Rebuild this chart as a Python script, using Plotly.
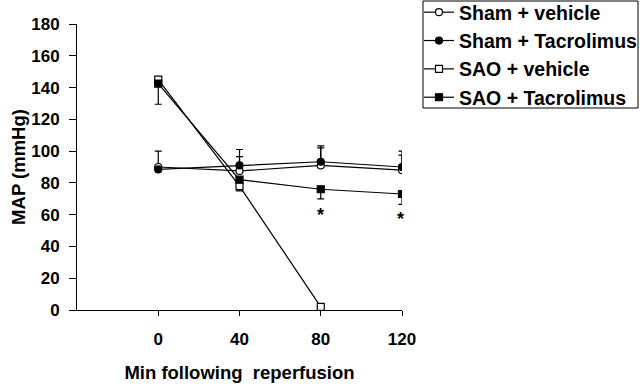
import plotly.graph_objects as go

times = [0, 40, 80, 120]
x_ticks = [0, 40, 80, 120]
y_ticks = [0, 20, 40, 60, 80, 100, 120, 140, 160, 180]

sham_veh = [90, 87.5, 91, 88]
sham_veh_up = [10, 9, 11, 12]
sham_veh_dn = [0, 0, 0, 0]

sham_tac = [88.5, 91, 93.3, 90]
sham_tac_up = [1, 10, 10, 7.5]
sham_tac_dn = [0, 0, 0, 0]

sao_veh_t = [0, 40, 80]
sao_veh = [145, 78, 2]
sao_veh_up = [0, 0, 0]
sao_veh_dn = [1, 3, 0]

sao_tac = [142.5, 82, 76, 73]
sao_tac_up = [0, 0, 0, 0]
sao_tac_dn = [13, 0, 6, 6.5]

sig_x = [80, 120]
sig_y = [60, 57]

FONT = "Liberation Sans, Arial, sans-serif"

# plot area in pixels: x 77..402, y 24..310
PL, PR, PT, PB = 77, 402, 24, 310
def px(x):
    return (x - PL) / (PR - PL)
def py(y):
    return (PB - y) / (PB - PT)

fig = go.Figure()

def add(name, x, y, up, dn, symbol, fill):
    fig.add_trace(go.Scatter(
        x=x, y=y, name=name, mode="lines+markers",
        line=dict(color="black", width=1.2),
        marker=dict(symbol=symbol, size=7, color=fill,
                    line=dict(color="black", width=1.2)),
        error_y=dict(type="data", symmetric=False, array=up, arrayminus=dn,
                     color="black", thickness=1.2, width=3.5),
        legendgroup=name,
    ))

add("Sham + vehicle", times, sham_veh, sham_veh_up, sham_veh_dn, "circle", "white")
add("Sham + Tacrolimus", times, sham_tac, sham_tac_up, sham_tac_dn, "circle", "black")
add("SAO + vehicle", sao_veh_t, sao_veh, sao_veh_up, sao_veh_dn, "square", "white")
add("SAO + Tacrolimus", times, sao_tac, sao_tac_up, sao_tac_dn, "square", "black")

for xv, yv in zip(sig_x, sig_y):
    fig.add_annotation(x=xv, y=yv, text="<b>*</b>", showarrow=False,
                       font=dict(family=FONT, size=18, color="black"),
                       xanchor="center", yanchor="middle", xshift=-2 if xv == 120 else 0)

# legend frame
fig.add_shape(type="rect", xref="paper", yref="paper",
              x0=px(423), x1=px(638), y0=py(108), y1=py(1),
              line=dict(color="black", width=1), fillcolor="rgba(0,0,0,0)")

fig.update_layout(
    width=640, height=386,
    margin=dict(l=PL, r=640 - PR, t=PT, b=386 - PB, autoexpand=False),
    paper_bgcolor="white", plot_bgcolor="white",
    font=dict(family=FONT, color="black", size=17, weight="bold"),
    showlegend=True,
    legend=dict(
        x=px(419), y=py(-7), xanchor="left", yanchor="top",
        borderwidth=0, bgcolor="rgba(0,0,0,0)",
        font=dict(family=FONT, size=19.5, weight="bold"),
        tracegroupgap=0,
    ),
)

fig.update_xaxes(
    range=[-40, 120], tickvals=x_ticks, showgrid=False, zeroline=False,
    showline=True, linecolor="black", linewidth=1,
    ticks="outside", ticklen=5, tickcolor="black", tickwidth=1,
    tickfont=dict(family=FONT, size=17, weight="bold"),
    ticklabelstandoff=9,
    title=dict(text="Min following  reperfusion", font=dict(family=FONT, size=18.5, weight="bold"), standoff=17),
)
fig.update_yaxes(
    range=[0, 180], tickvals=y_ticks, showgrid=False, zeroline=False,
    showline=True, linecolor="black", linewidth=1,
    ticks="outside", ticklen=7, tickcolor="black", tickwidth=1,
    tickfont=dict(family=FONT, size=17, weight="bold"),
    ticklabelstandoff=6,
    title=dict(text="MAP (mmHg)", font=dict(family=FONT, size=18.5, weight="bold"), standoff=0),
)

fig.write_html("out.html", post_script="document.body.style.margin='0px';",
               config={"displayModeBar": False})
